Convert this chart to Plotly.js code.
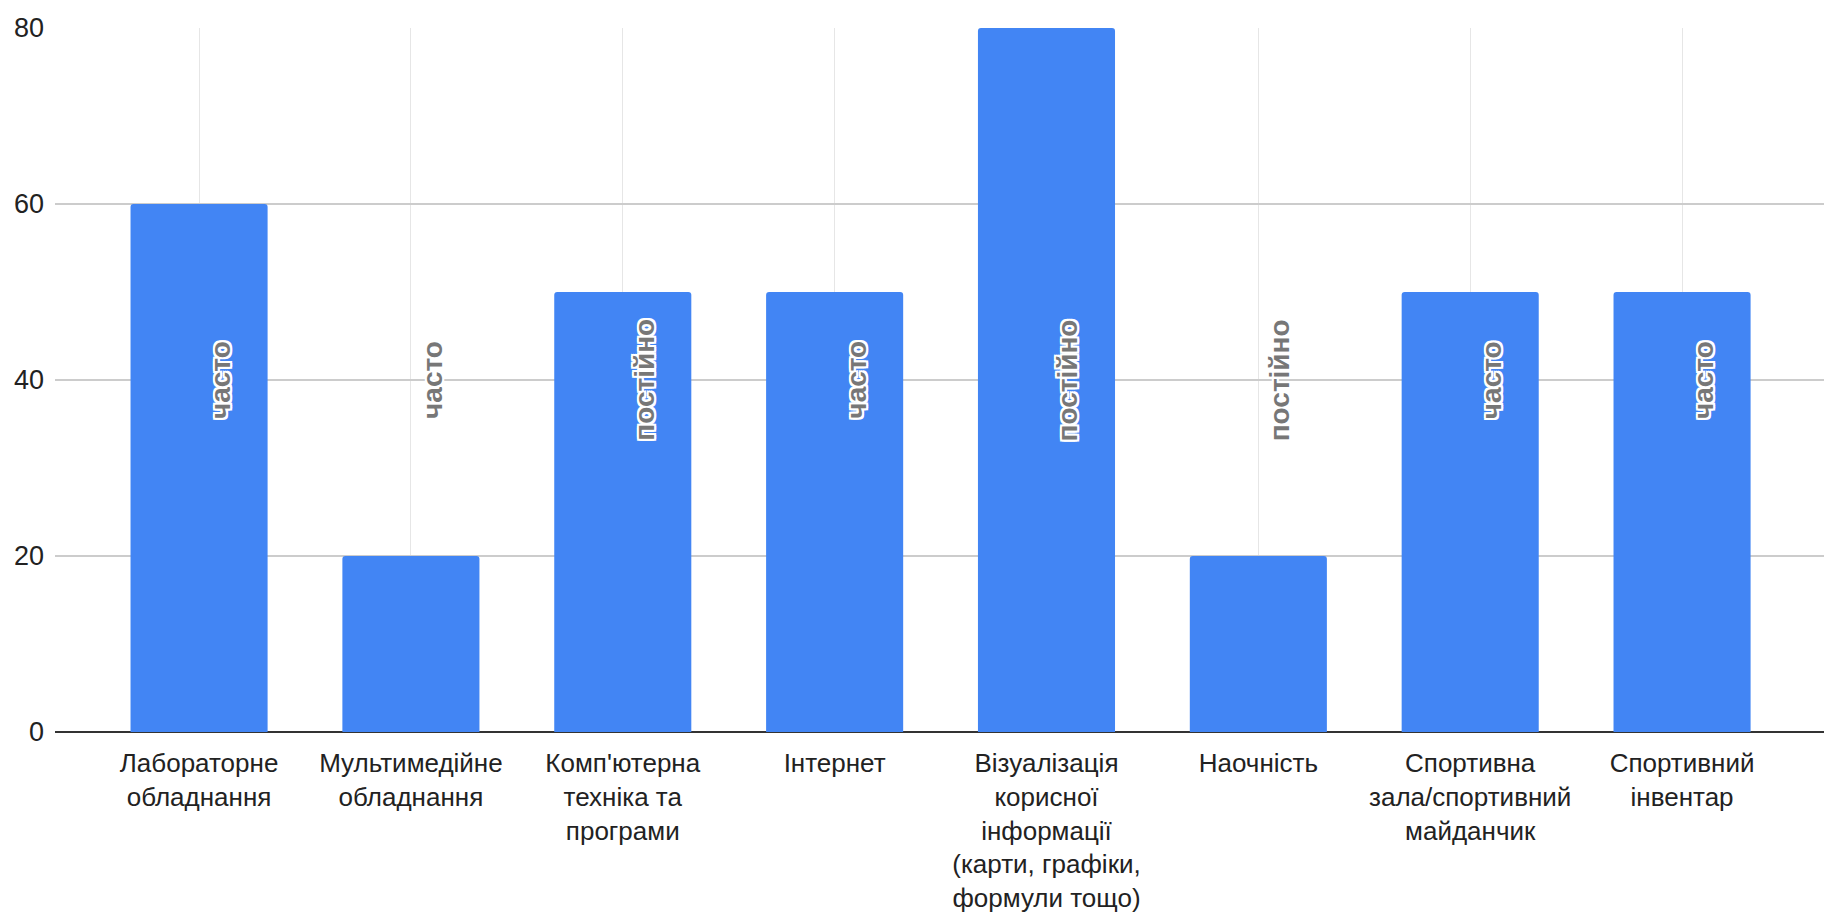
<!DOCTYPE html>
<html>
<head>
<meta charset="utf-8">
<script src="https://cdn.plot.ly/plotly-3.0.1.min.js"></script>
<style>html,body{margin:0;padding:0;background:#fff;}#chart{width:1824px;height:915px;}</style>
</head>
<body>
<div id="chart"></div>
<script>
const categories = [
  "Лабораторне<br>обладнання",
  "Мультимедійне<br>обладнання",
  "Комп'ютерна<br>техніка та<br>програми",
  "Інтернет",
  "Візуалізація<br>корисної<br>інформації<br>(карти, графіки,<br>формули тощо)",
  "Наочність",
  "Спортивна<br>зала/спортивний<br>майданчик",
  "Спортивний<br>інвентар"
];
const values = [60, 20, 50, 50, 80, 20, 50, 50];
const frequencyLabels = ["часто", "часто", "постійно", "часто", "постійно", "постійно", "часто", "часто"];
const yTicks = [0, 20, 40, 60, 80];

const labelY = 40;
const halo = "2px 0 0 #fff, -2px 0 0 #fff, 0 2px 0 #fff, 0 -2px 0 #fff, 2px 2px 0 #fff, -2px -2px 0 #fff, 2px -2px 0 #fff, -2px 2px 0 #fff";

const annotations = categories.map((c, i) => ({
  x: i, y: labelY, xref: "x", yref: "y",
  text: frequencyLabels[i], showarrow: false, textangle: -90,
  xshift: 21,
  font: {family: "Liberation Sans, Arial, sans-serif", size: 28, color: "#777777", weight: "bold", shadow: halo}
}));

const trace = {
  type: "bar",
  x: categories.map((c, i) => i),
  y: values,
  width: 0.647,
  marker: {color: "#4285F4", cornerradius: 3},
  hoverinfo: "none"
};

const layout = {
  width: 1824, height: 915,
  margin: {l: 55, r: 0, t: 28, b: 183},
  paper_bgcolor: "#fff", plot_bgcolor: "#fff",
  showlegend: false,
  xaxis: {
    type: "linear",
    range: [-0.68, 7.67],
    tickmode: "array",
    tickvals: categories.map((c, i) => i),
    ticktext: categories,
    showgrid: true, gridcolor: "#e6e6e6", gridwidth: 1,
    zeroline: false, showline: false, ticks: "",
    ticklabelstandoff: 13,
    tickfont: {family: "Liberation Sans Narrow, Arial Narrow, Arial, sans-serif", size: 26, color: "#222"}
  },
  yaxis: {
    range: [0, 80],
    tickmode: "array",
    tickvals: yTicks,
    showgrid: true, gridcolor: "#cccccc", gridwidth: 2,
    zeroline: true, zerolinecolor: "#333", zerolinewidth: 2,
    showline: false, ticks: "",
    ticklabelstandoff: 10,
    tickfont: {family: "Liberation Sans Narrow, Arial Narrow, Arial, sans-serif", size: 27, color: "#222"}
  },
  annotations: annotations
};

Plotly.newPlot("chart", [trace], layout, {displayModeBar: false, staticPlot: true});
</script>
</body>
</html>
